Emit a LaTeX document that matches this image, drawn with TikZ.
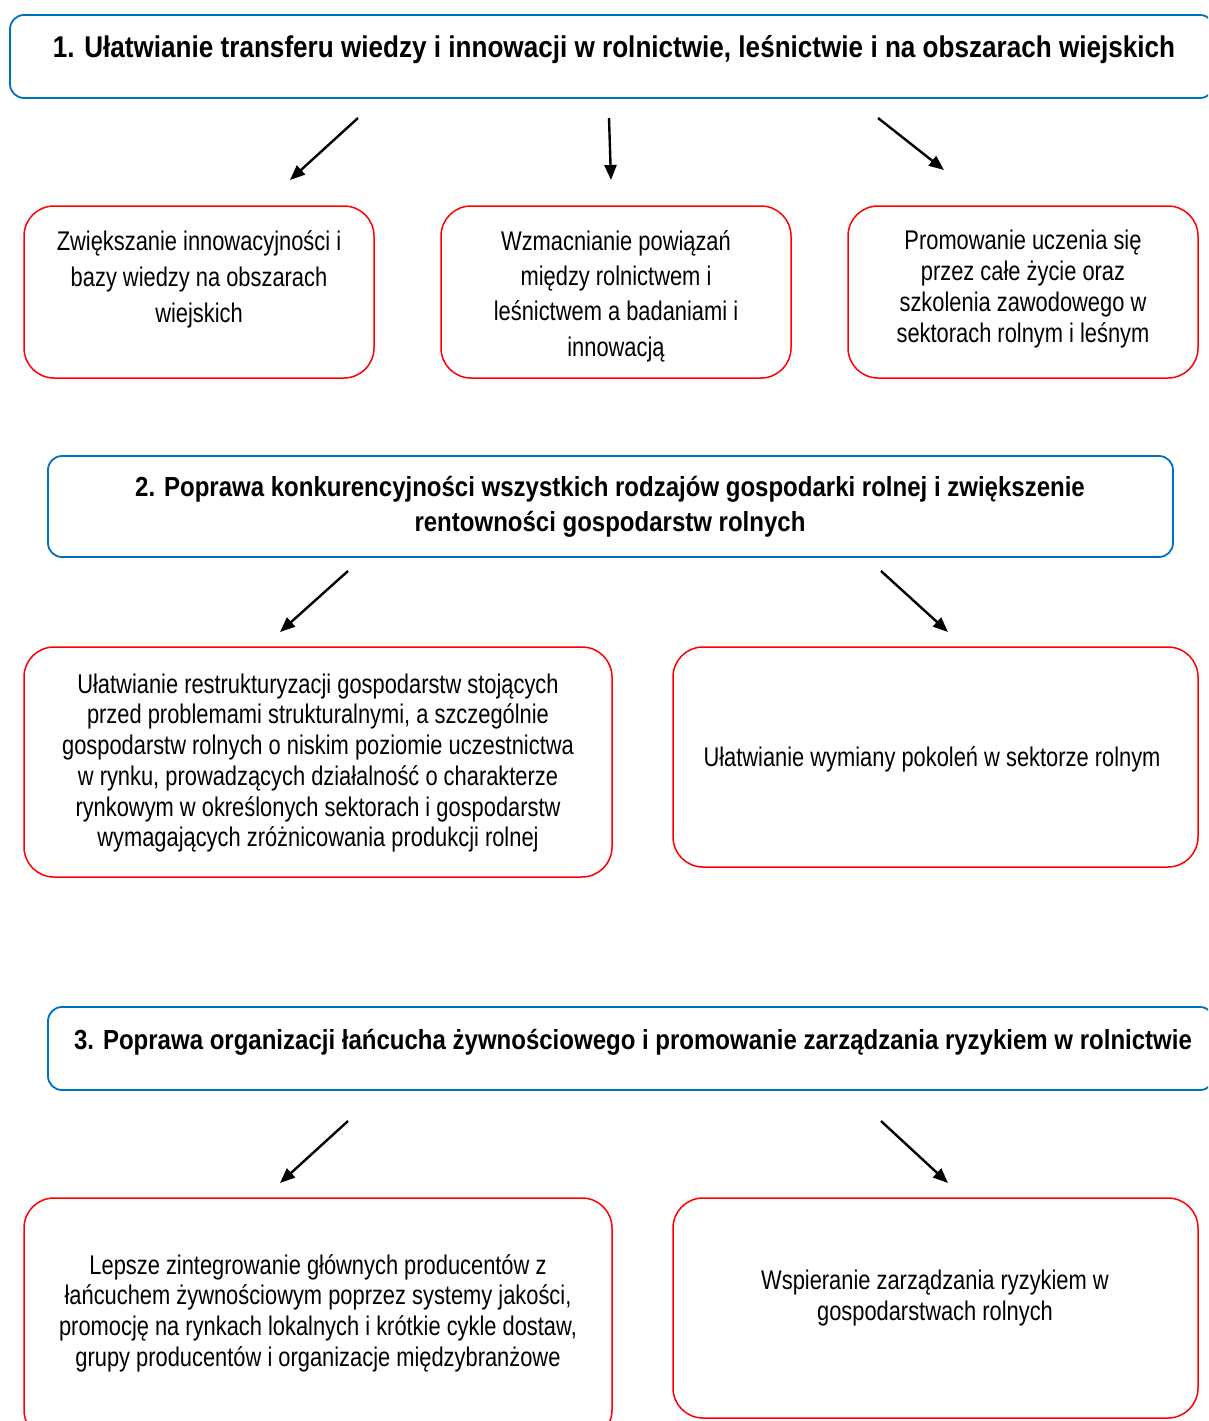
\documentclass[tikz,border=0pt]{standalone}
\usepackage{fontspec}
\setmainfont{Liberation Sans}[FakeStretch=0.81]
\newfontfamily\ttlfont{Liberation Sans}[FakeStretch=0.87]
\usetikzlibrary{arrows.meta}
\definecolor{bblue}{HTML}{0070C0}
\definecolor{rred}{HTML}{FF0000}
\tikzset{
  bluebox/.style={draw=bblue, line width=1.8pt, rounded corners=14pt, fill=white},
  redbox/.style={draw=rred, line width=1.5pt, rounded corners=30pt, fill=white},
  ttl/.style={font=\ttlfont\fontsize{30}{35}\selectfont\bfseries, align=center, inner sep=0pt},
  ttlb/.style={font=\ttlfont\fontsize{27.6}{35}\selectfont\bfseries, align=center, inner sep=0pt},
  txt/.style={font=\fontsize{27}{31}\selectfont, align=center, inner sep=0pt},
  arr/.style={line width=2.4pt, -{Triangle[length=15pt,width=12pt]}}
}
\begin{document}
\begin{tikzpicture}[x=1pt,y=-1pt]
\clip (0,0) rectangle (1208,1421);
\fill[white] (0,0) rectangle (1208,1421);
% level 1
\draw[bluebox] (10,15) rectangle (1214,98);
\node[ttl] (t1) at (614,50) {1. Ułatwianie transferu wiedzy i innowacji w rolnictwie, leśnictwie i na obszarach wiejskich};
\coordinate (a1s) at (358,118); \coordinate (a1e) at (290,180);
\coordinate (a2s) at (609,118); \coordinate (a2e) at (611,180);
\coordinate (a3s) at (878,118); \coordinate (a3e) at (944,170);
\draw[arr] (a1s) -- (a1e);
\draw[arr] (a2s) -- (a2e);
\draw[arr] (a3s) -- (a3e);
\draw[redbox] (24,206) rectangle (374,378);
\draw[redbox] (441,206) rectangle (791,378);
\draw[redbox] (848,206) rectangle (1198,378);
\node[txt, font=\fontsize{27}{36}\selectfont] (tA) at (199,279) {Zwiększanie innowacyjności i\\bazy wiedzy na obszarach\\wiejskich};
\node[txt, font=\fontsize{27}{35.3}\selectfont] (tB) at (616,296) {Wzmacnianie powiązań\\między rolnictwem i\\leśnictwem a badaniami i\\innowacją};
\node[txt] (tC) at (1023,289) {Promowanie uczenia się\\przez całe życie oraz\\szkolenia zawodowego w\\sektorach rolnym i leśnym};
% level 2
\draw[bluebox] (48,456) rectangle (1173,557);
\node[ttlb] (t2) at (610,507) {2. Poprawa konkurencyjności wszystkich rodzajów gospodarki rolnej i zwiększenie\\rentowności gospodarstw rolnych};
\coordinate (b1s) at (348,571); \coordinate (b1e) at (280,632);
\coordinate (b2s) at (881,571); \coordinate (b2e) at (948,632);
\draw[arr] (b1s) -- (b1e);
\draw[arr] (b2s) -- (b2e);
\draw[redbox] (24,647) rectangle (612,877);
\draw[redbox] (673,647) rectangle (1198,867);
\node[txt, font=\fontsize{27}{30.7}\selectfont] (tD) at (318,763) {Ułatwianie restrukturyzacji gospodarstw stojących\\przed problemami strukturalnymi, a szczególnie\\gospodarstw rolnych o niskim poziomie uczestnictwa\\w rynku, prowadzących działalność o charakterze\\rynkowym w określonych sektorach i gospodarstw\\wymagających zróżnicowania produkcji rolnej};
\node[txt] (tE) at (932,759) {Ułatwianie wymiany pokoleń w sektorze rolnym};
% level 3
\draw[bluebox] (48,1007) rectangle (1214,1090);
\node[ttlb] (t3) at (633,1042) {3. Poprawa organizacji łańcucha żywnościowego i promowanie zarządzania ryzykiem w rolnictwie};
\coordinate (c1s) at (348,1121); \coordinate (c1e) at (280,1183);
\coordinate (c2s) at (881,1121); \coordinate (c2e) at (948,1183);
\draw[arr] (c1s) -- (c1e);
\draw[arr] (c2s) -- (c2e);
\draw[redbox] (24,1198) rectangle (612,1440);
\draw[redbox] (673,1198) rectangle (1198,1418);
\node[txt, font=\fontsize{27}{30.7}\selectfont] (tF) at (318,1313) {Lepsze zintegrowanie głównych producentów z\\łańcuchem żywnościowym poprzez systemy jakości,\\promocję na rynkach lokalnych i krótkie cykle dostaw,\\grupy producentów i organizacje międzybranżowe};
\node[txt] (tG) at (935,1298) {Wspieranie zarządzania ryzykiem w\\gospodarstwach rolnych};
\end{tikzpicture}
\end{document}
